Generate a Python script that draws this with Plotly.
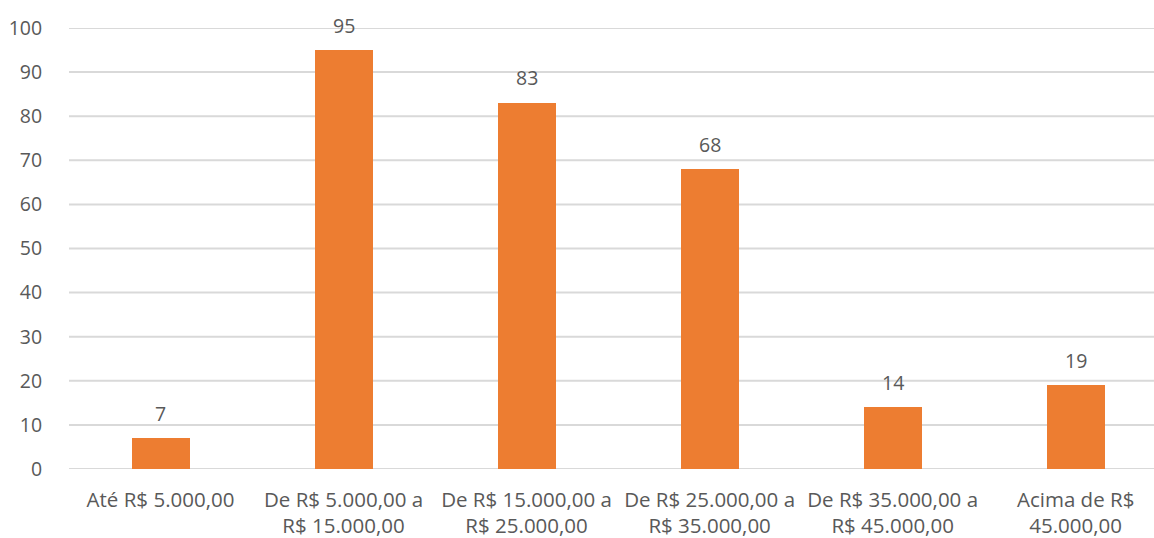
import plotly.graph_objects as go

categories = [
    "Até R$ 5.000,00",
    "De R$ 5.000,00 a<br>R$ 15.000,00",
    "De R$ 15.000,00 a<br>R$ 25.000,00",
    "De R$ 25.000,00 a<br>R$ 35.000,00",
    "De R$ 35.000,00 a<br>R$ 45.000,00",
    "Acima de R$<br>45.000,00",
]
values = [7, 95, 83, 68, 14, 19]
y_ticks = list(range(0, 101, 10))

FONT = "Open Sans"
TEXT_COLOR = "#595959"
BAR_COLOR = "#ED7D31"
GRID_COLOR = "#D9D9D9"

x_idx = list(range(len(categories)))

fig = go.Figure(
    go.Bar(
        x=x_idx,
        y=values,
        width=0.317,
        marker=dict(color=BAR_COLOR, line=dict(width=0)),
        hoverinfo="skip",
    )
)

# horizontal gridlines spanning the full plot width, under the bars
for t in y_ticks:
    fig.add_shape(
        type="line", xref="paper", yref="y",
        x0=0, x1=1, y0=t, y1=t,
        line=dict(color=GRID_COLOR, width=2),
        layer="below",
    )

# value labels above each bar
for i, v in zip(x_idx, values):
    fig.add_annotation(
        x=i, y=v, text=str(v), showarrow=False,
        yanchor="middle", yshift=25,
        font=dict(family=FONT, size=19.5, color=TEXT_COLOR),
    )

fig.update_layout(
    width=1154,
    height=538,
    margin=dict(l=68.5, r=0, t=28, b=69, autoexpand=False),
    paper_bgcolor="white",
    plot_bgcolor="white",
    showlegend=False,
    font=dict(family=FONT, size=19, color=TEXT_COLOR),
    bargap=0,
)

fig.update_xaxes(
    tickmode="array",
    tickvals=x_idx,
    ticktext=categories,
    range=[-0.5, 5.428],
    showgrid=False,
    showline=False,
    zeroline=False,
    automargin=False,
    ticks="outside",
    ticklen=12,
    tickcolor="rgba(0,0,0,0)",
    tickfont=dict(family=FONT, size=20.5, color=TEXT_COLOR),
    fixedrange=True,
)

fig.update_yaxes(
    range=[0, 100],
    tickmode="array",
    tickvals=y_ticks,
    ticktext=[str(t) for t in y_ticks],
    showgrid=False,
    zeroline=False,
    showline=False,
    automargin=False,
    ticks="outside",
    ticklen=22,
    tickcolor="rgba(0,0,0,0)",
    tickfont=dict(family=FONT, size=19.5, color=TEXT_COLOR),
    fixedrange=True,
)

fig.write_html("out.html", config={"displayModeBar": False})
